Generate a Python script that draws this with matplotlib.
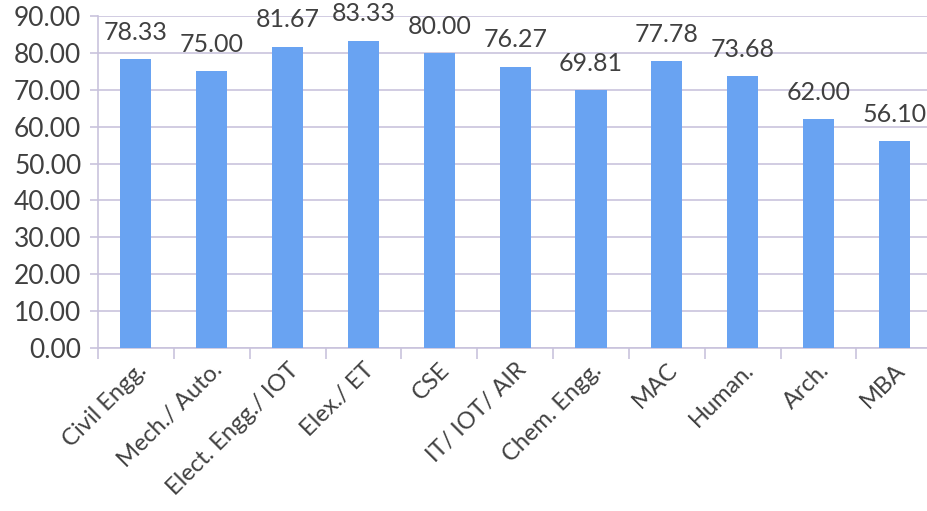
import numpy as np
import matplotlib.pyplot as plt
from matplotlib.ticker import FixedLocator, FormatStrFormatter

plt.rcParams.update({
    'font.family': ['Lato', 'DejaVu Sans'],
    'text.color': '#404040',
    'xtick.color': '#c9c3dd',
    'ytick.color': '#c9c3dd',
    'xtick.labelcolor': '#404040',
    'ytick.labelcolor': '#404040',
})

categories = ['Civil Engg.', 'Mech./ Auto.', 'Elect. Engg./ IOT', 'Elex./ ET', 'CSE',
              'IT/ IOT/ AIR', 'Chem. Engg.', 'MAC', 'Human.', 'Arch.', 'MBA']
values = [78.33, 75.00, 81.67, 83.33, 80.00, 76.27, 69.81, 77.78, 73.68, 62.00, 56.10]
y_ticks = [0, 10, 20, 30, 40, 50, 60, 70, 80, 90]

grid_c = '#c9c3dd'
bar_c = '#69a3f2'

fig = plt.figure(figsize=(9.27, 5.11), dpi=100)
ax = fig.add_axes([98 / 927, 1 - 348 / 511, 1 - 98 / 927, (348 - 16) / 511])

x = np.arange(len(categories))
ax.bar(x, values, width=0.41, color=bar_c, zorder=3)

for xi, v in zip(x, values):
    ax.annotate(f'{v:.2f}', (xi, v), xytext=(0, 11), textcoords='offset points',
                ha='center', va='bottom', fontsize=18, color='#404040')

ax.set_ylim(0, 90)
ax.set_xlim(-0.5, 10.43)
ax.set_yticks(y_ticks)
ax.yaxis.set_major_formatter(FormatStrFormatter('%.2f'))
ax.grid(axis='y', color=grid_c, linewidth=1.2, zorder=0)
ax.tick_params(axis='y', labelsize=19, length=6, width=1.2, pad=6)

# category labels at bar centres, tick marks between bars
ax.set_xticks(x)
ax.set_xticklabels(categories, rotation=45, ha='right', rotation_mode='anchor',
                   fontsize=17)
ax.tick_params(axis='x', which='major', length=0, pad=8)
ax.xaxis.set_minor_locator(FixedLocator(np.arange(-0.5, len(categories), 1.0)))
ax.tick_params(axis='x', which='minor', length=8, width=1.2, color=grid_c)

for side in ['top', 'right']:
    ax.spines[side].set_visible(False)
for side in ['left', 'bottom']:
    ax.spines[side].set_color(grid_c)
    ax.spines[side].set_linewidth(1.2)

fig.savefig('out.png', dpi=100)
